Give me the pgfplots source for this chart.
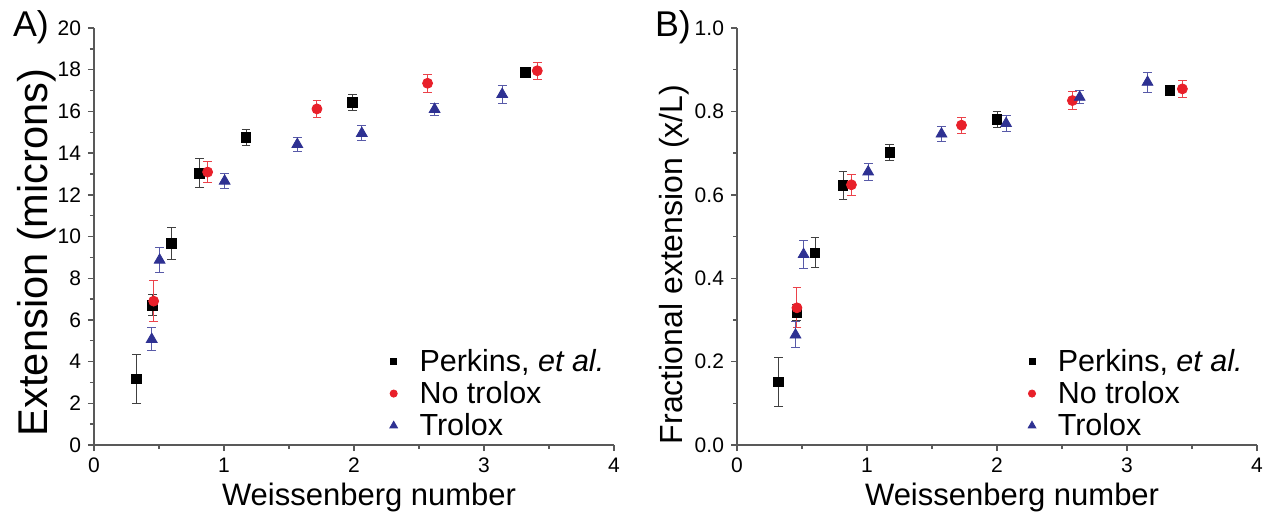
\documentclass[border=0pt]{standalone}
\usepackage{fontspec}
\setmainfont{Liberation Sans}
\usepackage{pgfplots}
\pgfplotsset{compat=1.18}
\definecolor{cred}{HTML}{E8202A}
\definecolor{cblue}{HTML}{2E3192}
\pgfplotsset{
  panel/.style={
    scale only axis, width=260pt, height=208.5pt,
    axis x line*=bottom, axis y line*=left,
    xmin=0, xmax=4, xtick={0,1,2,3,4}, minor x tick num=1, minor y tick num=1,
    tick align=outside, major tick length=3pt, minor tick length=2pt,
    axis line style={color=black!65, line width=0.7pt},
    every tick/.style={black!65, line width=0.7pt},
    tick label style={font=\fontsize{10.5}{12}\selectfont},
    /pgf/number format/assume math mode=true,
    clip=false,
    legend cell align=left,
    legend style={draw=none, fill=none, anchor=north west, inner sep=0pt, outer sep=0pt,
      font=\fontsize{15.25}{15.5}\selectfont, row sep=-0.5pt,
      /tikz/every odd column/.append style={column sep=9pt}},
    xlabel={Weissenberg number},
    xlabel style={font=\fontsize{15.5}{16}\selectfont, at={(axis description cs:0.529,-0.125)}, anchor=center},
  },
  sq/.style={only marks, mark=square*, mark size=2.4pt, black,
    legend image post style={mark size=1.5pt},
    error bars/.cd, y dir=both, y explicit,
    error bar style={line width=0.5pt, black!75},
    error mark options={rotate=90, mark size=2.2pt, line width=0.5pt, black!75}},
  ci/.style={only marks, mark=*, mark size=2.5pt, cred,
    legend image post style={mark size=1.8pt},
    error bars/.cd, y dir=both, y explicit,
    error bar style={line width=0.5pt, cred!85},
    error mark options={rotate=90, mark size=2.2pt, line width=0.5pt, cred!85}},
  tr/.style={only marks, mark=triangle*, mark size=3.1pt, cblue,
    legend image post style={mark size=2.2pt},
    error bars/.cd, y dir=both, y explicit,
    error bar style={line width=0.5pt, cblue!80},
    error mark options={rotate=90, mark size=2.2pt, line width=0.5pt, cblue!80}},
}
\begin{document}
\begin{tikzpicture}
\path[use as bounding box] (0,0) rectangle (635.5pt,258pt);
\begin{axis}[panel, at={(47pt,35.5pt)}, anchor=south west,
  ymin=0, ymax=20, ytick={0,2,...,20},
  ylabel={Extension (microns)},
  ylabel style={font=\fontsize{20.8}{22}\selectfont, at={(axis description cs:-0.11,0.462)}, anchor=center},
  legend style={at={(axis description cs:0.569,0.24)}}]
\addplot[sq] coordinates {
 (0.328,3.17) +- (0,1.18)
 (0.45,6.71) +- (0,0.5)
 (0.597,9.67) +- (0,0.77)
 (0.813,13.03) +- (0,0.70)
 (1.17,14.75) +- (0,0.40)
 (1.99,16.42) +- (0,0.39)
 (3.32,17.87) +- (0,0.12)
};
\addlegendentry{Perkins, \textit{et al.}}
\addplot[ci] coordinates {
 (0.459,6.90) +- (0,1.0)
 (0.874,13.09) +- (0,0.52)
 (1.715,16.12) +- (0,0.40)
 (2.566,17.35) +- (0,0.44)
 (3.41,17.95) +- (0,0.40)
};
\addlegendentry{No trolox}
\addplot[tr] coordinates {
 (0.444,5.07) +- (0,0.55)
 (0.505,8.87) +- (0,0.62)
 (1.005,12.66) +- (0,0.38)
 (1.564,14.42) +- (0,0.32)
 (2.06,14.95) +- (0,0.35)
 (2.62,16.10) +- (0,0.28)
 (3.14,16.82) +- (0,0.44)
};
\addlegendentry{Trolox}
\end{axis}
\begin{axis}[panel, at={(368.5pt,35.5pt)}, anchor=south west,
  ymin=0, ymax=1, ytick={0,0.2,...,1.0},
  yticklabel style={/pgf/number format/.cd, fixed, fixed zerofill, precision=1},
  ylabel={Fractional extension (x/L)},
  ylabel style={font=\fontsize{16}{18}\selectfont, at={(axis description cs:-0.12,0.433)}, anchor=center},
  legend style={at={(axis description cs:0.56,0.24)}}]
\addplot[sq] coordinates {
 (0.32,0.151) +- (0,0.058)
 (0.46,0.318) +- (0,0.02)
 (0.60,0.461) +- (0,0.036)
 (0.816,0.622) +- (0,0.033)
 (1.176,0.701) +- (0,0.019)
 (2.0,0.781) +- (0,0.019)
 (3.33,0.851) +- (0,0.008)
};
\addlegendentry{Perkins, \textit{et al.}}
\addplot[ci] coordinates {
 (0.461,0.329) +- (0,0.048)
 (0.88,0.624) +- (0,0.025)
 (1.727,0.767) +- (0,0.019)
 (2.58,0.826) +- (0,0.021)
 (3.426,0.854) +- (0,0.020)
};
\addlegendentry{No trolox}
\addplot[tr] coordinates {
 (0.45,0.264) +- (0,0.031)
 (0.512,0.457) +- (0,0.033)
 (1.009,0.655) +- (0,0.020)
 (1.573,0.746) +- (0,0.017)
 (2.07,0.771) +- (0,0.019)
 (2.636,0.834) +- (0,0.015)
 (3.158,0.870) +- (0,0.024)
};
\addlegendentry{Trolox}
\end{axis}
\node[font=\fontsize{17.9}{20}\selectfont] at (15.5pt,244.5pt) {A)};
\node[font=\fontsize{17.9}{20}\selectfont] at (336.5pt,244.5pt) {B)};
\end{tikzpicture}
\end{document}
